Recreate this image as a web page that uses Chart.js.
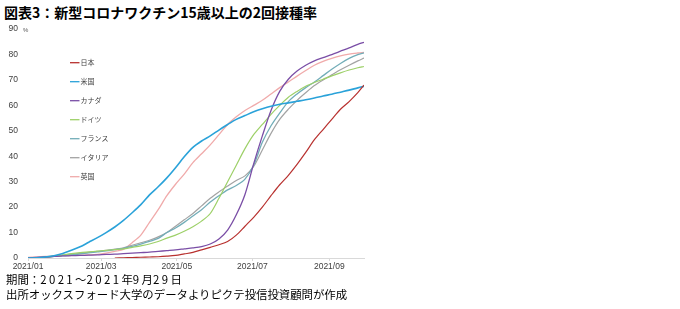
<!DOCTYPE html>
<html>
<head>
<meta charset="utf-8">
<script src="https://cdn.jsdelivr.net/npm/chart.js@4.4.1/dist/chart.umd.min.js"></script>
<style>
  html, body { margin: 0; padding: 0; background: #fff; }
  body { width: 680px; height: 309px; position: relative; overflow: hidden; font-family: "Noto Sans CJK JP", sans-serif; }
  #title { position: absolute; left: 4px; top: 2px; font-size: 14px; font-weight: bold; color: #000; white-space: nowrap; }
  #wrap { position: absolute; left: 0; top: 22px; width: 366px; height: 250px; }
  .foot { position: absolute; left: 6px; font-size: 11.4px; color: #000; white-space: nowrap; }
  .num { letter-spacing: 2.4px; }
</style>
</head>
<body>
<div id="title">図表3：新型コロナワクチン15歳以上の2回接種率</div>
<div id="wrap"><canvas id="c"></canvas></div>
<div class="foot" id="f1" style="top:271px;">期間：<span class="num">2021</span>～<span class="num">2021</span>年<span class="num">9</span>月<span class="num">29</span>日</div>
<div class="foot" id="f2" style="top:286px;">出所オックスフォード大学のデータよりピクテ投信投資顧問が作成</div>
<script>
const dates = ['2021-01-01','2021-01-08','2021-01-15','2021-01-22','2021-01-29','2021-02-05','2021-02-12','2021-02-19','2021-02-26','2021-03-05',
  '2021-03-12','2021-03-19','2021-03-26','2021-04-02','2021-04-09','2021-04-16','2021-04-23','2021-04-30','2021-05-07','2021-05-14',
  '2021-05-21','2021-05-28','2021-06-04','2021-06-11','2021-06-18','2021-06-25','2021-07-02','2021-07-09','2021-07-16','2021-07-23',
  '2021-07-30','2021-08-06','2021-08-13','2021-08-20','2021-08-27','2021-09-03','2021-09-10','2021-09-17','2021-09-24','2021-09-29'];

const japan = [null,null,null,null,null,null,null,null,null,null,
  0,0.1,0.2,0.3,0.4,0.5,0.7,1.0,1.6,2.2, 3.2,4.2,5.2,6.5,9,12.5,16,20,24.5,28.8,
  32.5,36.8,41.5,46.5,50.5,54.5,58.5,61.5,65,68];
const usa = [0,0.1,0.4,0.9,1.8,3.0,4.4,6.2,8.0,10.0, 12.2,14.8,17.8,21,24.8,28,31.5,35.5,39.8,43.5,
  46,48,50.3,52.5,54.5,56,57.5,58.7,59.7,60.4, 61,61.6,62.2,62.9,63.7,64.4,65.2,66,66.9,67.5];
const canada = [0,0.2,0.4,0.6,0.8,0.9,1.0,1.1,1.2,1.4, 1.5,1.7,1.9,2.1,2.3,2.6,2.9,3.2,3.6,4.0,
  4.5,5.5,7.5,11,17,25,37,48,58,65.5, 70.3,73.5,75.8,77.5,78.8,80,81.3,82.6,84,84.8];
const germany = [0,0.1,0.3,0.7,1.2,1.7,2.1,2.4,2.7,3.0, 3.3,3.6,4.2,4.8,5.5,6.5,7.8,9,10.5,12.3,
  14.5,17.5,23.5,30,36.5,43,48.5,52.5,56.5,60, 63.2,65.5,67.5,69,70.3,71.6,72.8,73.9,74.8,75.3];
const france = [0,0.1,0.3,0.6,0.9,1.2,1.6,2.0,2.4,2.8, 3.3,3.8,4.6,5.5,6.5,7.7,10,11.8,14,16.5,
  19,22,24.5,26.8,28.5,31,36.5,45.5,52,57, 61.5,64.5,67,69.2,71.7,74.2,76.5,78.5,80,80.7];
const italy = [0,0.1,0.3,0.6,1.0,1.4,1.8,2.2,2.6,3.0, 3.5,4.0,5.0,6.0,7.0,8.3,10,12.5,15,17.5,
  20.5,23.5,26,28.3,30.5,32.3,36,42.5,49,54.5, 58.5,62,65,67.8,70,72,74,75.8,77.5,78.6];
const uk = [0.2,0.4,0.6,0.8,0.9,1.0,1.1,1.2,1.4,1.9, 2.6,3.4,6,9,14,19,24.5,29,33,37.5,
  41,44.5,48.5,52.5,55.5,58,60,62,64.5,67, 69.2,71.5,73.7,75.8,77.3,78.5,79.5,80.2,80.6,80.8];

const seriesNames = ['日本','米国','カナダ','ドイツ','フランス','イタリア','英国'];
const tickDates = ['2021-01-01','2021-03-01','2021-05-01','2021-07-01','2021-09-01'];
const tickLabels = ['2021/01','2021/03','2021/05','2021/07','2021/09'];
const yTickLabels = ['0','10','20','30','40','50','60','70','80','90'];
const yUnit = '%';

const colors = ['#b8312f','#2aa2d9','#7a4ea6','#9dd068','#72adb8','#a3a3a3','#f0aaaa'];
const widths = [1.2,1.6,1.3,1.2,1.3,1.2,1.3];

const day0 = Date.UTC(2021,0,1);
const toDay = s => { const p = s.split('-').map(Number); return (Date.UTC(p[0],p[1]-1,p[2]) - day0)/86400000; };
const xDays = dates.map(toDay);
const tickDays = tickDates.map(toDay);
const lastDay = xDays[xDays.length-1];

const allSeries = [japan, usa, canada, germany, france, italy, uk];
const datasets = allSeries.map((arr, i) => ({
  label: seriesNames[i],
  data: arr.map((v, k) => ({x: xDays[k], y: v})),
  borderColor: colors[i],
  backgroundColor: colors[i],
  borderWidth: widths[i],
  pointRadius: 0,
  tension: 0.3,
  spanGaps: false,
  fill: false
}));

const WRAP_TOP = 22;
const legendPlugin = {
  id: 'inlegend',
  afterDraw(chart) {
    const ctx = chart.ctx;
    ctx.save();
    ctx.font = '7px "Noto Sans CJK JP"';
    ctx.textBaseline = 'middle';
    chart.data.datasets.forEach((ds, i) => {
      const y = 62.7 + i * 19 - WRAP_TOP;
      ctx.strokeStyle = ds.borderColor;
      ctx.lineWidth = 1.3;
      ctx.beginPath(); ctx.moveTo(70, y); ctx.lineTo(79.5, y); ctx.stroke();
      ctx.fillStyle = '#404040';
      ctx.fillText(ds.label, 80.5, y);
    });
    const ys = chart.scales.y;
    ctx.font = '6px "Liberation Sans"';
    ctx.fillStyle = '#595959';
    ctx.textAlign = 'left';
    ctx.fillText(yUnit, 23, ys.getPixelForValue(90) + 1);
    ctx.restore();
  }
};

new Chart(document.getElementById('c'), {
  type: 'line',
  data: { datasets },
  options: {
    responsive: true,
    maintainAspectRatio: false,
    animation: false,
    layout: { padding: { left: 0, right: 2, top: 0, bottom: 0 } },
    plugins: { legend: { display: false }, tooltip: { enabled: false } },
    scales: {
      x: {
        type: 'linear',
        min: 0,
        max: lastDay,
        afterBuildTicks: s => { s.ticks = tickDays.map(v => ({value: v})); },
        ticks: {
          autoSkip: false,
          maxRotation: 0,
          padding: 1,
          color: '#404040',
          font: { size: 8.5, family: 'Liberation Sans' },
          callback: (v) => { const i = tickDays.indexOf(v); return i >= 0 ? tickLabels[i] : ''; }
        },
        grid: { display: true, drawOnChartArea: false, drawTicks: true, tickLength: 3, color: '#d9d9d9' },
        border: { display: true, color: '#d9d9d9', width: 1 },
        afterFit: s => { s.height = 14; }
      },
      y: {
        min: 0,
        max: 90,
        afterBuildTicks: s => { s.ticks = yTickLabels.map(t => ({value: Number(t)})); },
        ticks: {
          padding: 2,
          color: '#404040',
          font: { size: 8.5, family: 'Liberation Sans' },
          callback: v => yTickLabels[yTickLabels.indexOf(String(v))]
        },
        grid: { display: false },
        border: { display: false },
        afterFit: s => { s.width = 28; }
      }
    }
  },
  plugins: [legendPlugin]
});
</script>
</body>
</html>
